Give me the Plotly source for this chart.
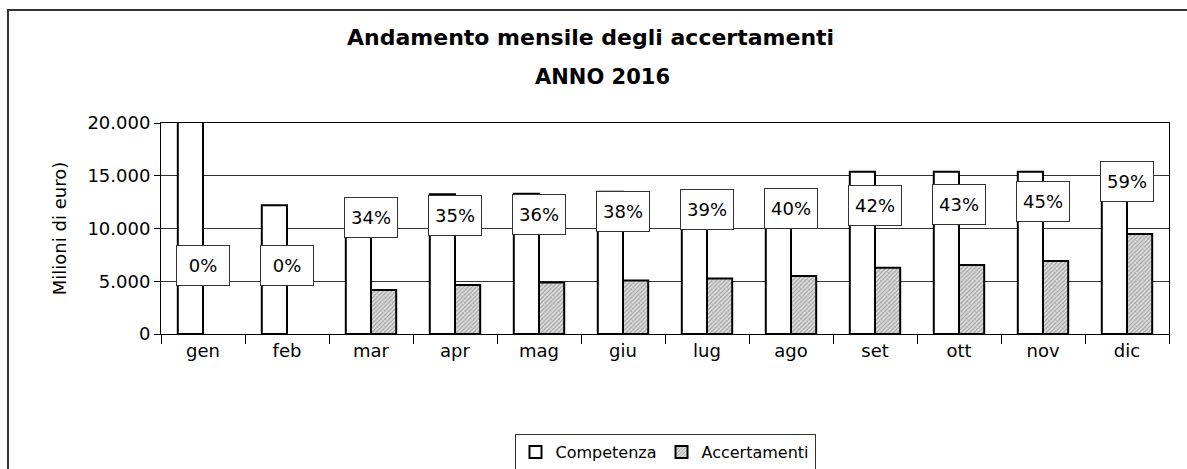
import plotly.graph_objects as go

months = ["gen", "feb", "mar", "apr", "mag", "giu", "lug", "ago", "set", "ott", "nov", "dic"]
competenza = [21500, 12200, 12900, 13240, 13300, 13490, 13600, 13600, 15390, 15390, 15390, 16100]
accertamenti = [None, None, 4170, 4640, 4870, 5060, 5270, 5500, 6290, 6540, 6920, 9480]
percentuali = [0, 0, 34, 35, 36, 38, 39, 40, 42, 43, 45, 59]
y_ticks = [0, 5000, 10000, 15000, 20000]

FONT = "DejaVu Sans"

fig = go.Figure()
fig.add_trace(go.Bar(
    x=months, y=competenza, name="Competenza",
    marker=dict(color="white", line=dict(color="black", width=2)),
    hoverinfo="skip",
))
fig.add_trace(go.Bar(
    x=months, y=accertamenti, name="Accertamenti",
    marker=dict(color="#d0d0d0", line=dict(color="black", width=2),
                pattern=dict(shape="/", fgcolor="#5a5a5a", bgcolor="#dcdcdc",
                             size=3, solidity=0.35)),
    hoverinfo="skip",
))
# invisible percentage series on a secondary axis (label anchors)
fig.add_trace(go.Scatter(
    x=months, y=percentuali, yaxis="y2", mode="markers",
    marker=dict(opacity=0), showlegend=False, hoverinfo="skip",
))

for m, p in zip(months, percentuali):
    fig.add_annotation(
        x=m, y=p, xref="x", yref="y2", text=f"{p}%", showarrow=False,
        font=dict(family=FONT, size=18, color="black"),
        bgcolor="white", bordercolor="#333333", borderwidth=1,
        width=50, height=37, borderpad=1,
        xanchor="center", yanchor="middle",
    )

# title (two lines)
fig.add_annotation(
    x=0.4256, y=1.405, xref="paper", yref="paper", showarrow=False,
    text="<b>Andamento mensile degli accertamenti</b>",
    font=dict(family=FONT, size=22, color="black"), xanchor="center", yanchor="middle",
)
fig.add_annotation(
    x=0.4375, y=1.22, xref="paper", yref="paper", showarrow=False,
    text="<b>ANNO 2016</b>",
    font=dict(family=FONT, size=21, color="black"), xanchor="center", yanchor="middle",
)

# outer chart frame
fig.add_shape(
    type="rect", xref="paper", yref="paper",
    x0=-0.1518, x1=1.03, y0=-0.75, y1=1.5355,
    line=dict(color="#333333", width=2), fillcolor="rgba(0,0,0,0)", layer="below",
)

fig.update_layout(
    width=1187, height=469, autosize=False,
    margin=dict(l=161, r=18, t=123, b=135, autoexpand=False),
    paper_bgcolor="white", plot_bgcolor="white",
    separators=",.",
    barmode="group", bargap=0.40, bargroupgap=0.0,
    font=dict(family=FONT, color="black"),
    showlegend=True,
    legend=dict(
        orientation="h", x=0.5, xanchor="center", y=-0.474, yanchor="top",
        bordercolor="#333333", borderwidth=1, bgcolor="white",
        font=dict(family=FONT, size=16, color="black"),
        itemwidth=30, tracegroupgap=0,
    ),
    xaxis=dict(
        type="category", range=[-0.5, len(months) - 0.5],
        tickson="boundaries", ticks="outside", ticklen=9,
        tickcolor="black", showline=True, linecolor="black", linewidth=1,
        mirror=True, showgrid=False, automargin=False,
        tickfont=dict(family=FONT, size=18, color="black"),
    ),
    yaxis=dict(
        range=[0, 20000], tickvals=y_ticks, tickformat=",d",
        ticks="outside", ticklen=6, tickcolor="black",
        showline=True, linecolor="black", linewidth=1, mirror=True,
        showgrid=True, gridcolor="#333333", gridwidth=1,
        zeroline=False, automargin=False,
        tickfont=dict(family=FONT, size=18, color="black"),
        title=dict(text="Milioni di euro)", standoff=16,
                   font=dict(family=FONT, size=18, color="black")),
    ),
    yaxis2=dict(
        overlaying="y", range=[-48, 100], visible=False,
    ),
)

post = (
    "document.body.style.margin='0';"
    "document.body.style.padding='0';"
    "document.body.style.overflow='hidden';"
    "Plotly.relayout('{plot_id}', {width: 1187, height: 469});"
)

fig.write_html("out.html", config={"responsive": False, "displayModeBar": False},
               post_script=post)
